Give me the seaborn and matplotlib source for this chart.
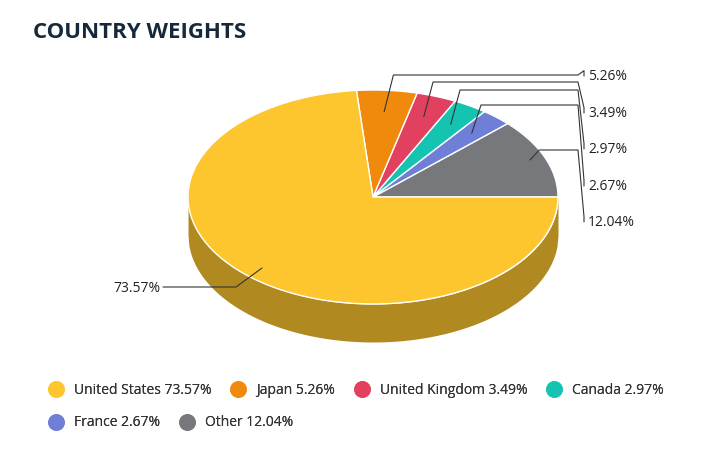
import numpy as np
import matplotlib.pyplot as plt
import seaborn as sns
from matplotlib.patches import Wedge
from matplotlib.lines import Line2D

countries = ['United States', 'Japan', 'United Kingdom', 'Canada', 'France', 'Other']
weights = [73.57, 5.26, 3.49, 2.97, 2.67, 12.04]
colors = ['#fdc52e', '#ef8a0c', '#e2405f', '#14c4b0', '#6f7fd8', '#76787b']
side_color = '#b08a20'

sns.set_theme(style='white')
plt.rcParams['font.family'] = ['Open Sans', 'DejaVu Sans']

fig = plt.figure(figsize=(7.08, 4.67), dpi=100)
ax = fig.add_axes([0, 0, 1, 1])
ax.set_xlim(-373 / 185, 335 / 185)
ax.set_ylim(-270 / 107, 197 / 107)
ax.axis('off')

ry = 1.0 * 185 / 185  # data units already scaled per axis
depth = 38 / 107

# side of the cylinder (front half is all the US slice)
xs = np.linspace(-1, 1, 400)
top = -np.sqrt(np.clip(1 - xs ** 2, 0, None))
ax.fill_between(xs, top - depth, top, color=side_color, lw=0, zorder=1)

# top face: counter-clockwise from 3 o'clock, Other first
order = [5, 4, 3, 2, 1, 0]
start = 0.0
mids = {}
for i in order:
    span = weights[i] / 100 * 360
    th = np.radians(np.linspace(start, start + span, 100))
    px = np.concatenate([[0], np.cos(th), [0]])
    py = np.concatenate([[0], np.sin(th), [0]])
    ax.fill(px, py, color=colors[i], ec='white', lw=1, zorder=2)
    mids[i] = np.radians(start + span / 2)
    start += span

def to_x(p):
    return (p - 373) / 185

def to_y(p):
    return (197 - p) / 107

# right-hand labels with elbow leaders
right = [(1, 75, 76), (2, 82, 113), (3, 90, 149), (4, 105, 186), (5, 150, 222)]
for i, row, lab in right:
    a = mids[i]
    r = 0.8 if i != 5 else 0.75
    x0, y0 = r * np.cos(a), r * np.sin(a)
    if i == 5:
        x0, y0 = to_x(530), to_y(160)
    xr, yr = to_x(row and 578), to_y(row)
    ax.plot([x0, x0 + 0.05, xr, to_x(584), to_x(584)],
            [y0, yr, yr, to_y(lab) + 0.05, to_y(lab)],
            color='#333333', lw=0.8, zorder=3)
    ax.text(to_x(588), to_y(lab), f'{weights[i]:.2f}%', fontsize=10,
            va='center', ha='left', color='#222222')

# US label on the left
ax.plot([to_x(262), to_x(236), to_x(163)], [to_y(268), to_y(287), to_y(287)],
        color='#333333', lw=0.8, zorder=3)
ax.text(to_x(160), to_y(288), f'{weights[0]:.2f}%', fontsize=10,
        va='center', ha='right', color='#222222')

fig.text(33 / 708, 1 - 33 / 467, 'COUNTRY WEIGHTS', fontsize=16, fontweight='bold',
         color='#15293b', va='center', ha='left')

def handles(idx):
    return [Line2D([], [], marker='o', ls='', markersize=11, markerfacecolor=colors[i],
                   markeredgecolor=colors[i], label=f'{countries[i]} {weights[i]:.2f}%')
            for i in idx]

for idx, ypx in [([0, 1, 2, 3], 390), ([4, 5], 423)]:
    leg = fig.legend(handles=handles(idx), loc='center left',
                     bbox_to_anchor=(30 / 708, 1 - ypx / 467), ncol=len(idx),
                     frameon=False, fontsize=10, handletextpad=0.3,
                     columnspacing=0.9, labelcolor='#333333')
    fig.add_artist(leg)

fig.savefig('out.png', dpi=100, facecolor='white')
